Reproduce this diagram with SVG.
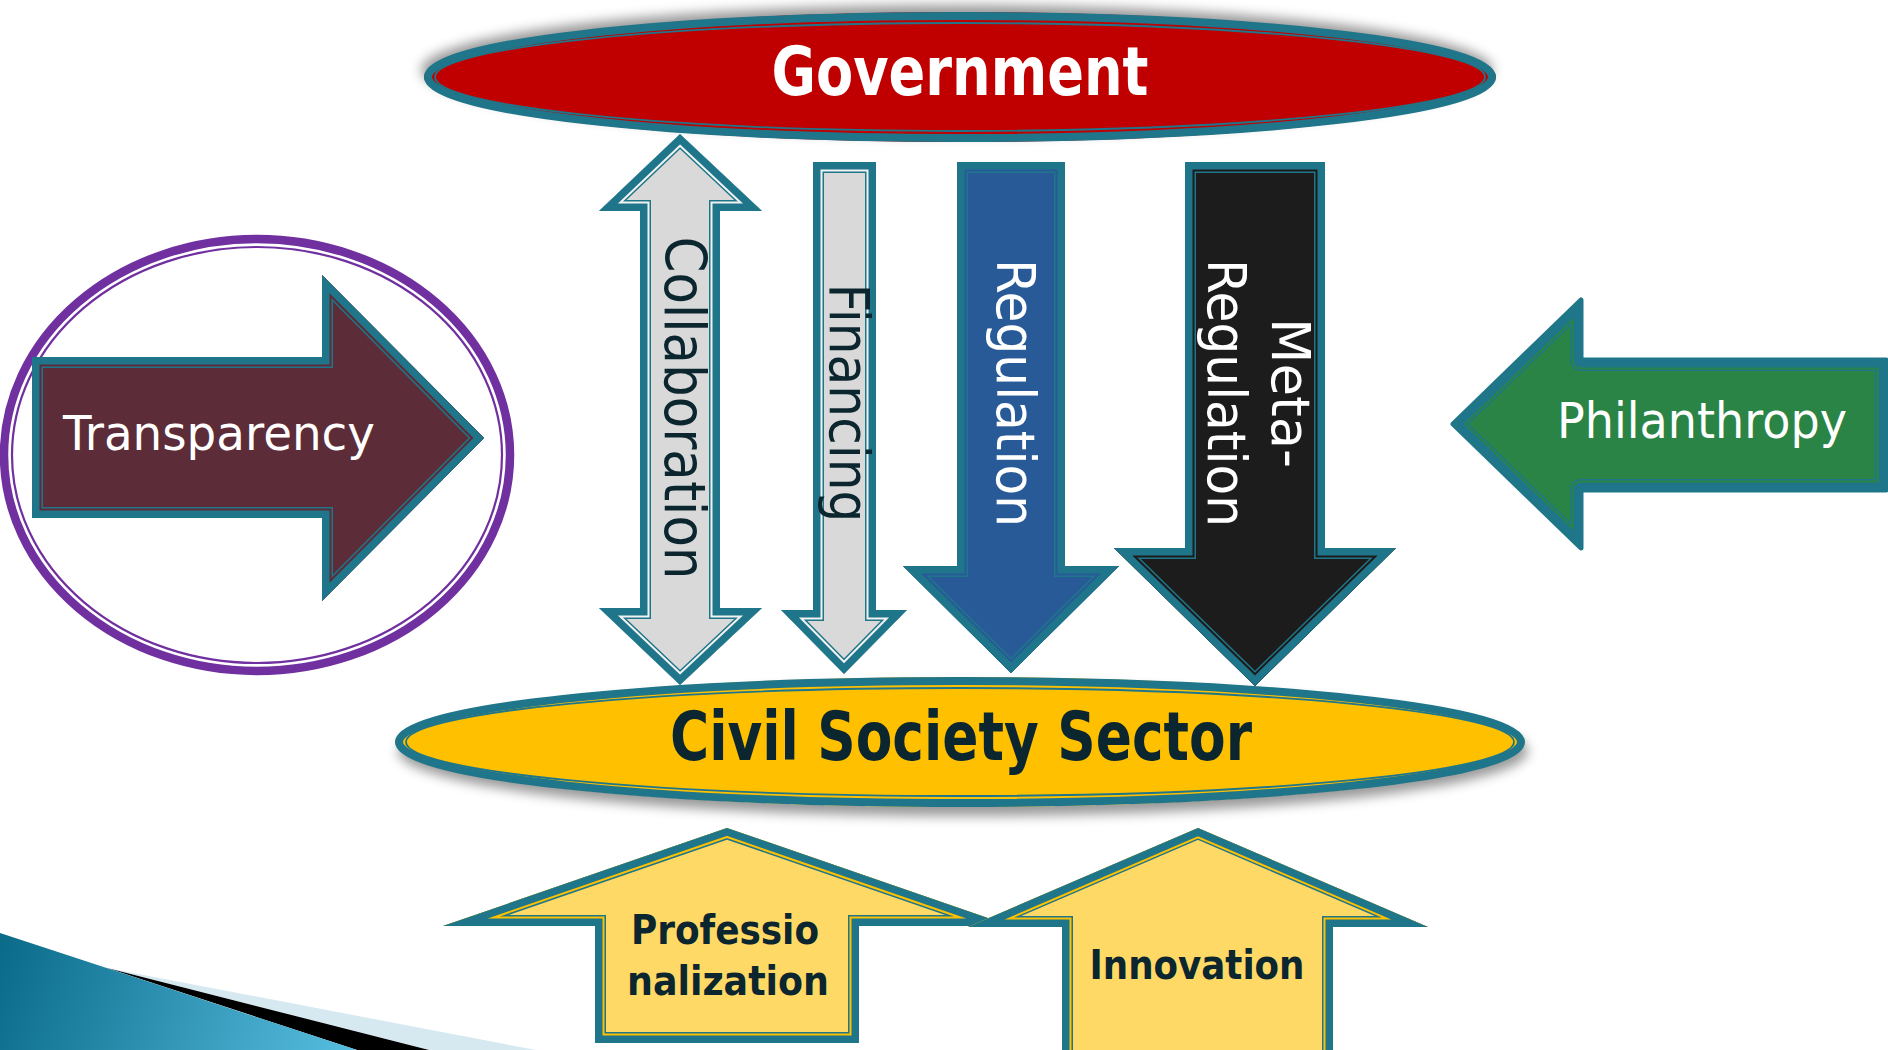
<svg xmlns="http://www.w3.org/2000/svg" xmlns:xlink="http://www.w3.org/1999/xlink" width="1888" height="1050" viewBox="0 0 1888 1050">
<style>
.tl{stroke:#1F768A;fill:none}
.lbl{font-family:"DejaVu Sans","Open Sans",sans-serif}
.cond{font-family:"DejaVu Sans Condensed","DejaVu Sans",sans-serif;font-stretch:condensed;font-weight:bold}
.dark{fill:#0B262E}
.white{fill:#FFFFFF}
</style>
<defs>
<linearGradient id="gBlue" x1="0" y1="933" x2="360" y2="1050" gradientUnits="userSpaceOnUse">
<stop offset="0" stop-color="#0A6A88"/><stop offset="1" stop-color="#58BFE2"/>
</linearGradient>
<filter id="shUp" x="-10%" y="-40%" width="120%" height="180%"><feDropShadow dx="-3" dy="-7" stdDeviation="6" flood-color="#000" flood-opacity="0.4"/></filter>
<filter id="shDown" x="-10%" y="-40%" width="120%" height="180%"><feDropShadow dx="3" dy="9" stdDeviation="6" flood-color="#000" flood-opacity="0.4"/></filter>
<path id="pCol" d="M680,134 L762,211 L720,211 L720,608 L762,608 L680,685 L599,608 L640,608 L640,211 L599,211 Z"/>
<path id="pFin" d="M813,162 L876,162 L876,610 L907,610 L844,674 L781,610 L813,610 Z"/>
<path id="pReg" d="M957,162 L1065,162 L1065,566 L1119,566 L1011,673 L903,566 L957,566 Z"/>
<path id="pMeta" d="M1185,162 L1325,162 L1325,548 L1396,548 L1255,686 L1114,548 L1185,548 Z"/>
<path id="pTra" d="M32,357 L322,357 L322,275 L484,438 L322,601 L322,518 L32,518 Z"/>
<path id="pPhi" d="M1453,424 L1581,300 L1581,360 L1886,360 L1886,490 L1581,490 L1581,548 Z"/>
<path id="pPro" d="M727,828 L1011,926 L859,926 L859,1043 L595,1043 L595,926 L443,926 Z"/>
<path id="pInn" d="M1198,828 L1428,927 L1333,927 L1333,1062 L1062,1062 L1062,927 L968,927 Z"/>
<clipPath id="cCol"><use xlink:href="#pCol"/></clipPath>
<clipPath id="cFin"><use xlink:href="#pFin"/></clipPath>
<clipPath id="cReg"><use xlink:href="#pReg"/></clipPath>
<clipPath id="cMeta"><use xlink:href="#pMeta"/></clipPath>
<clipPath id="cTra"><use xlink:href="#pTra"/></clipPath>
<clipPath id="cPhi"><use xlink:href="#pPhi"/></clipPath>
<clipPath id="cPro"><use xlink:href="#pPro"/></clipPath>
<clipPath id="cInn"><use xlink:href="#pInn"/></clipPath>
</defs>
<rect x="0" y="0" width="1888" height="1050" fill="#FFFFFF"/>

<g id="corner-decoration">
<polygon points="107,968 536,1050 429,1050" fill="#D6E9F1"/>
<polygon points="107,968 429,1050 357,1050" fill="#000000"/>
<polygon points="0,933 357,1050 0,1050" fill="url(#gBlue)"/>
</g>

<g id="government">
<ellipse cx="960" cy="77" rx="536" ry="65" fill="#C00000" filter="url(#shUp)"/>
<ellipse class="tl" cx="960" cy="77" rx="532" ry="61" stroke-width="8"/>
<ellipse class="tl" cx="960" cy="77" rx="525" ry="54" stroke-width="1.8"/>
<rect x="958.5" y="12" width="3" height="7" fill="#1F768A"/>
<rect x="958.5" y="135" width="3" height="7" fill="#1F768A"/>
<text class="cond white" x="960" y="95" font-size="68" text-anchor="middle" textLength="377" lengthAdjust="spacingAndGlyphs">Government</text>
</g>

<g id="civil-society-sector">
<ellipse cx="960" cy="742" rx="565" ry="65" fill="#FFC000" filter="url(#shDown)"/>
<ellipse class="tl" cx="960" cy="742" rx="561" ry="61" stroke-width="8"/>
<ellipse class="tl" cx="960" cy="742" rx="554" ry="54" stroke-width="1.8"/>
<circle cx="960" cy="681" r="3.5" fill="#1F768A"/>
<text class="cond dark" x="961" y="760" font-size="68" text-anchor="middle" textLength="582" lengthAdjust="spacingAndGlyphs">Civil Society Sector</text>
</g>

<g id="transparency">
<ellipse cx="257" cy="455" rx="253" ry="216" fill="none" stroke="#7030A0" stroke-width="8.5"/>
<ellipse cx="257" cy="455" rx="245" ry="208" fill="none" stroke="#7030A0" stroke-width="2.2"/>
<use xlink:href="#pTra" fill="#5C2C38"/>
<g clip-path="url(#cTra)" fill="none">
<use xlink:href="#pTra" stroke="#1F768A" stroke-width="22"/>
<use xlink:href="#pTra" stroke="#5C2C38" stroke-width="19"/>
<use xlink:href="#pTra" stroke="#1F768A" stroke-width="15"/>
</g>
<text class="lbl white" x="63" y="450" font-size="48" textLength="312" lengthAdjust="spacingAndGlyphs">Transparency</text>
</g>

<g id="philanthropy">
<use xlink:href="#pPhi" fill="#2A8445" stroke="#1F768A" stroke-width="5" stroke-linejoin="round"/>
<g clip-path="url(#cPhi)" fill="none" stroke-linejoin="round">
<use xlink:href="#pPhi" stroke="#1F768A" stroke-width="22"/>
<use xlink:href="#pPhi" stroke="#2A8445" stroke-width="19"/>
<use xlink:href="#pPhi" stroke="#1F768A" stroke-width="15"/>
</g>
<text class="lbl white" x="1557" y="438" font-size="49" textLength="290" lengthAdjust="spacingAndGlyphs">Philanthropy</text>
</g>

<g id="collaboration">
<use xlink:href="#pCol" fill="#D9D9D9"/>
<g clip-path="url(#cCol)" fill="none">
<use xlink:href="#pCol" stroke="#1F768A" stroke-width="22"/>
<use xlink:href="#pCol" stroke="#F2F2F2" stroke-width="19"/>
<use xlink:href="#pCol" stroke="#1F768A" stroke-width="15"/>
</g>
<text class="lbl dark" transform="translate(665,408) rotate(90)" font-size="57" text-anchor="middle" textLength="343" lengthAdjust="spacingAndGlyphs">Collaboration</text>
</g>

<g id="financing">
<use xlink:href="#pFin" fill="#D9D9D9"/>
<g clip-path="url(#cFin)" fill="none">
<use xlink:href="#pFin" stroke="#1F768A" stroke-width="22"/>
<use xlink:href="#pFin" stroke="#F2F2F2" stroke-width="19"/>
<use xlink:href="#pFin" stroke="#1F768A" stroke-width="15"/>
</g>
<text class="lbl dark" transform="translate(830,403) rotate(90)" font-size="56" text-anchor="middle" textLength="239" lengthAdjust="spacingAndGlyphs">Financing</text>
</g>

<g id="regulation">
<use xlink:href="#pReg" fill="#285A98"/>
<g clip-path="url(#cReg)" fill="none">
<use xlink:href="#pReg" stroke="#1F768A" stroke-width="22"/>
<use xlink:href="#pReg" stroke="#285A98" stroke-width="19"/>
<use xlink:href="#pReg" stroke="#1F768A" stroke-width="15"/>
</g>
<text class="lbl white" transform="translate(997,393) rotate(90)" font-size="53" text-anchor="middle" textLength="268" lengthAdjust="spacingAndGlyphs">Regulation</text>
</g>

<g id="meta-regulation">
<use xlink:href="#pMeta" fill="#1C1C1C"/>
<g clip-path="url(#cMeta)" fill="none">
<use xlink:href="#pMeta" stroke="#1F768A" stroke-width="22"/>
<use xlink:href="#pMeta" stroke="#1C1C1C" stroke-width="19"/>
<use xlink:href="#pMeta" stroke="#1F768A" stroke-width="15"/>
</g>
<text class="lbl white" transform="translate(1272,393) rotate(90)" font-size="53" text-anchor="middle" textLength="150" lengthAdjust="spacingAndGlyphs">Meta-</text>
<text class="lbl white" transform="translate(1208,393) rotate(90)" font-size="53" text-anchor="middle" textLength="268" lengthAdjust="spacingAndGlyphs">Regulation</text>
</g>

<g id="professionalization">
<use xlink:href="#pPro" fill="#FFD966"/>
<g clip-path="url(#cPro)" fill="none">
<use xlink:href="#pPro" stroke="#1F768A" stroke-width="22"/>
<use xlink:href="#pPro" stroke="#FFC000" stroke-width="19"/>
<use xlink:href="#pPro" stroke="#1F768A" stroke-width="15"/>
</g>
<text class="cond dark" x="725" y="944" font-size="40" text-anchor="middle" textLength="188" lengthAdjust="spacingAndGlyphs">Professio</text>
<text class="cond dark" x="728" y="995" font-size="40" text-anchor="middle" textLength="202" lengthAdjust="spacingAndGlyphs">nalization</text>
</g>

<g id="innovation">
<use xlink:href="#pInn" fill="#FFD966"/>
<g clip-path="url(#cInn)" fill="none">
<use xlink:href="#pInn" stroke="#1F768A" stroke-width="22"/>
<use xlink:href="#pInn" stroke="#FFC000" stroke-width="19"/>
<use xlink:href="#pInn" stroke="#1F768A" stroke-width="15"/>
</g>
<text class="cond dark" x="1197" y="979" font-size="41" text-anchor="middle" textLength="215" lengthAdjust="spacingAndGlyphs">Innovation</text>
</g>

<g id="connectors"></g>
</svg>
